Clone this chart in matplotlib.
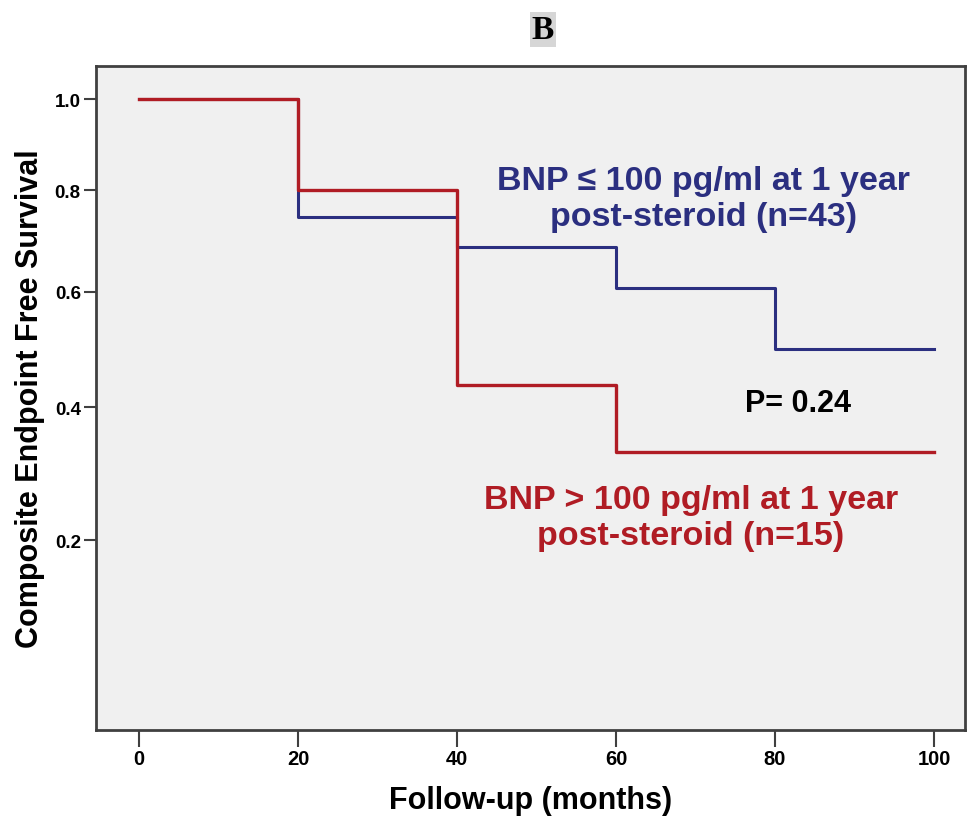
import numpy as np
import matplotlib
matplotlib.use("Agg")
import matplotlib.pyplot as plt

# Kaplan-Meier step data (months, survival)
blue_t = [0, 20, 40, 60, 80, 100]
blue_s = [1.0, 0.744, 0.685, 0.607, 0.497, 0.497]
red_t = [0, 20, 40, 60, 100]
red_s = [1.0, 0.80, 0.436, 0.329, 0.329]

x_ticks = [0, 20, 40, 60, 80, 100]
y_ticks = [0.2, 0.4, 0.6, 0.8, 1.0]

blue = "#2b2f80"
red = "#b01c24"
sans = ["Liberation Sans", "DejaVu Sans"]

fig = plt.figure(figsize=(9.71, 8.2), dpi=100)
ax = fig.add_axes([0.0989, 0.1085, 0.8949, 0.8095])
ax.set_facecolor("#f0f0f0")

# survival axis is stretched like log(S + 1)
ax.set_yscale("function", functions=(lambda y: np.log(np.clip(y + 1, 1e-6, None)),
                                     lambda y: np.exp(y) - 1))

ax.step(blue_t, blue_s, where="post", color=blue, lw=2.2)
ax.step(red_t, red_s, where="post", color=red, lw=2.4)

ax.set_xlim(-5.4, 103.9)
ax.set_ylim(-0.037, 1.078)
ax.set_xticks(x_ticks)
ax.set_yticks(y_ticks)
ax.set_yticklabels([f"{v:.1f}" for v in y_ticks], fontsize=13.5, fontweight="bold", family=sans)
ax.set_xticklabels([str(v) for v in x_ticks], fontsize=14.5, fontweight="bold", family=sans)
ax.yaxis.minorticks_off()
ax.tick_params(axis="y", length=9, width=1.5, color="#404040", pad=2)
ax.tick_params(axis="x", length=12, width=1.5, color="#404040", pad=2)
for s in ax.spines.values():
    s.set_color("#404040")
    s.set_linewidth(2)

ax.set_xlabel("Follow-up (months)", fontsize=22, fontweight="bold", labelpad=12, family=sans)
ax.set_ylabel("Composite Endpoint Free Survival", fontsize=22, fontweight="bold",
              labelpad=7, family=sans)

ax.text(71.0, 0.783, "BNP \u2264 100 pg/ml at 1 year\npost-steroid (n=43)", color=blue,
        fontsize=24.5, fontweight="bold", ha="center", va="center", linespacing=1.2,
        family=sans)
ax.text(69.4, 0.232, "BNP > 100 pg/ml at 1 year\npost-steroid (n=15)", color=red,
        fontsize=24.5, fontweight="bold", ha="center", va="center", linespacing=1.2,
        family=sans)
ax.text(82.9, 0.407, "P= 0.24", color="black", fontsize=22, fontweight="bold",
        ha="center", va="center", family=sans)

fig.text(0.559, 0.963, "B", fontsize=24, fontweight="bold", ha="center", va="center",
         family=["Liberation Serif", "DejaVu Serif"],
         bbox=dict(facecolor="#d6d6d6", edgecolor="none", pad=1.5))

fig.savefig("out.png", dpi=100)
